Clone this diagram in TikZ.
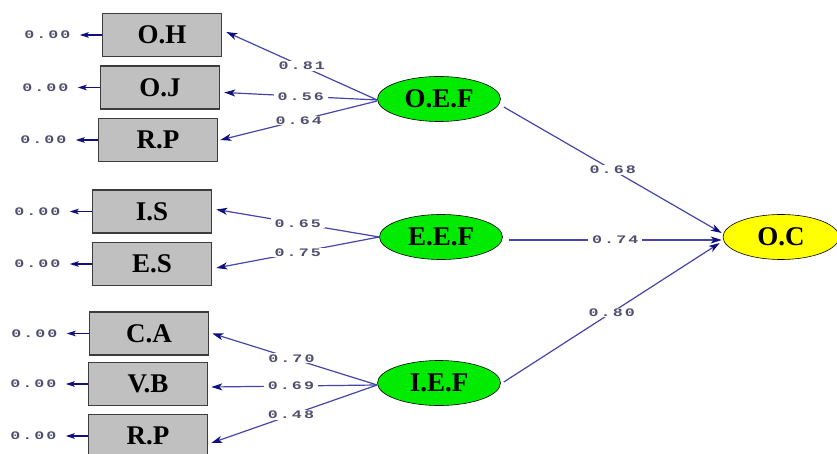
\documentclass[tikz,border=0pt]{standalone}
\usepackage{fontspec}
\setmainfont{Liberation Serif}
\newfontfamily\numfont[FakeStretch=1.45, LetterSpace=18]{Liberation Mono}
\usetikzlibrary{arrows.meta,shapes.geometric,calc}
\definecolor{linec}{RGB}{70,70,170}
\definecolor{tipc}{RGB}{15,15,125}
\definecolor{boxfill}{RGB}{192,192,192}
\definecolor{boxdraw}{RGB}{60,60,60}
\definecolor{lgreen}{RGB}{0,235,0}
\definecolor{lyellow}{RGB}{255,255,0}
\definecolor{numc}{RGB}{80,80,110}
\begin{document}
\begin{tikzpicture}[x=1pt,y=-1pt,
  obs/.style={draw=boxdraw, line width=1.6pt, fill=boxfill, minimum width=119pt,
    minimum height=43pt, inner sep=0pt, font=\fontsize{27}{27}\selectfont\bfseries},
  lat/.style={ellipse, draw=black, line width=0.6pt, fill=lgreen, minimum width=123pt,
    minimum height=45pt, inner sep=0pt, font=\fontsize{27}{27}\selectfont\bfseries},
  conn/.style={draw=linec, line width=1.2pt, -{Stealth[length=11pt,width=7pt,inset=3pt,color=tipc]}},
  errarr/.style={draw=tipc, line width=1.5pt, -{Stealth[length=9pt,width=5.5pt,inset=2pt,color=tipc]}},
  coef/.style={fill=white, inner xsep=4pt, inner ysep=1pt, text=numc, font=\numfont\fontsize{11.5}{11.5}\selectfont\bfseries},
  err/.style={anchor=east, inner sep=0pt, text=numc, font=\numfont\fontsize{11.5}{11.5}\selectfont\bfseries},
]
\useasboundingbox (0,0) rectangle (837,454);
\fill[white] (0,0) rectangle (837,454);

% observed boxes
\node[obs] (oh)  at (162,35)  {O.H};
\node[obs] (oj)  at (160,87.5){O.J};
\node[obs] (rp1) at (158,140) {R.P};
\node[obs] (is)  at (152,211.5){I.S};
\node[obs] (es)  at (152,264) {E.S};
\node[obs] (ca)  at (149,333.5){C.A};
\node[obs] (vb)  at (148,384) {V.B};
\node[obs] (rp2) at (148,436) {R.P};

% latent ellipses
\node[lat] (oef) at (439,99)  {O.E.F};
\node[lat] (eef) at (441,237) {E.E.F};
\node[lat] (ief) at (439,383) {I.E.F};
\node[lat, fill=lyellow, minimum width=116pt] (oc) at (781,237) {O.C};

% error terms
\foreach \n in {oh,oj,rp1,is,es,ca,vb,rp2}{
  \coordinate (e\n) at ($(\n.west)+(-22,0)$);
  \node[err] (t\n) at ($(e\n)+(-9,0)$) {0.00};
  \draw[errarr] (\n.west) -- (e\n);
}

% loadings
\draw[conn] ($(oef.west)+(0,1)$) -- node[coef, pos=0.5]{0.81} ($(oh.east)+(4,-3)$);
\draw[conn] ($(oef.west)+(0,1)$) -- node[coef, pos=0.5]{0.56} ($(oj.east)+(4,5)$);
\draw[conn] ($(oef.west)+(0,2)$) -- node[coef, pos=0.5]{0.64} ($(rp1.east)+(2,0)$);

\draw[conn] (eef.west) -- node[coef, pos=0.5]{0.65} ($(is.east)+(4,-2)$);
\draw[conn] (eef.west) -- node[coef, pos=0.5]{0.75} ($(es.east)+(4,4)$);

\draw[conn] ($(ief.west)+(0,2)$) -- node[coef, pos=0.52]{0.70} ($(ca.east)+(3,0)$);
\draw[conn] ($(ief.west)+(0,2)$) -- node[coef, pos=0.52]{0.69} ($(vb.east)+(3,3)$);
\draw[conn] ($(ief.west)+(0,2)$) -- node[coef, pos=0.52]{0.48} ($(rp2.east)+(3,7)$);

% structural paths
\draw[conn] ($(oef.east)+(3,8)$) -- node[coef, pos=0.5]{0.68} ($(oc.west)+(-1,-4)$);
\draw[conn] ($(eef.east)+(6,3)$) -- node[coef, pos=0.5]{0.74} ($(oc.west)+(-1,3)$);
\draw[conn] ($(ief.east)+(3,-1)$) -- node[coef, pos=0.5]{0.80} ($(oc.west)+(-3,6)$);
\end{tikzpicture}
\end{document}
